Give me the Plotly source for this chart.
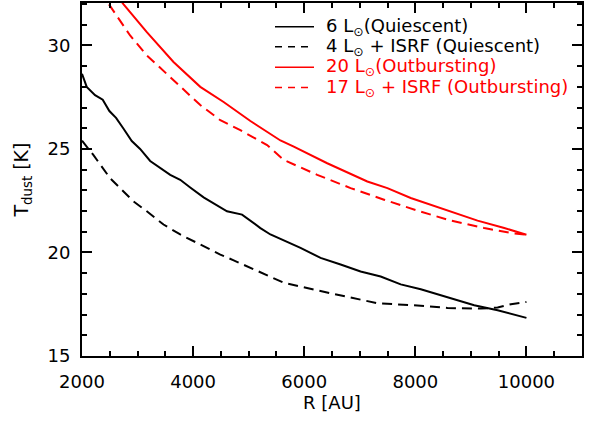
import plotly.graph_objects as go

# Dust temperature profiles T_dust(R)
r_q6 = [2000, 2085, 2235, 2373, 2493, 2613, 2745, 2896, 3046, 3227, 3588, 3768, 3948,
        4189, 4610, 4881, 5211, 5392, 5933, 6294, 6655, 7015, 7376, 7737, 8098, 8579,
        9060, 9481, 10000]
t_q6 = [28.63, 28.0, 27.6, 27.38, 26.83, 26.5, 25.99, 25.38, 25.0, 24.42, 23.75, 23.51,
        23.14, 22.66, 21.99, 21.83, 21.18, 20.87, 20.22, 19.74, 19.42, 19.08, 18.84,
        18.46, 18.22, 17.82, 17.45, 17.21, 16.84]

r_q4 = [2000, 2204, 2505, 2716, 2925, 3167, 3467, 3768, 4069, 4490, 4730, 5151, 5632,
        6234, 6775, 7316, 7977, 8579, 9180, 9481, 9721, 10000]
t_q4 = [25.4, 24.71, 23.59, 23.03, 22.47, 21.99, 21.35, 20.87, 20.46, 19.9, 19.62, 19.1,
        18.54, 18.17, 17.85, 17.55, 17.45, 17.32, 17.29, 17.34, 17.5, 17.61]

r_o20 = [2000, 2745, 3167, 3647, 4129, 4549, 5031, 5572, 5812, 6414, 7136, 7497, 7917,
         8518, 9120, 9601, 10000]
t_o20 = [34.6, 32.0, 30.64, 29.2, 28.0, 27.27, 26.35, 25.41, 25.11, 24.31, 23.43, 23.11,
         22.63, 22.07, 21.54, 21.18, 20.86]

r_o17 = [2000, 2475, 2866, 3167, 3528, 3768, 4129, 4490, 4850, 5332, 5632, 6234, 6835,
         7436, 8038, 8639, 9240, 9721, 10000]
t_o17 = [33.9, 32.0, 30.48, 29.52, 28.63, 28.0, 27.12, 26.39, 25.91, 25.19, 24.47, 23.75,
         23.11, 22.55, 22.02, 21.54, 21.18, 20.94, 20.86]

labels = ["6 L<sub>⊙</sub>(Quiescent)",
          "4 L<sub>⊙</sub> + ISRF (Quiescent)",
          "20 L<sub>⊙</sub>(Outbursting)",
          "17 L<sub>⊙</sub> + ISRF (Outbursting)"]
colors = ["black", "black", "red", "red"]
dashes = ["solid", "10px,6px", "solid", "10px,6px"]
key_dashes = ["solid", "7px,6px", "solid", "7px,6px"]

series = [(r_q6, t_q6), (r_q4, t_q4), (r_o20, t_o20), (r_o17, t_o17)]

X_RANGE = [2000, 11000]
Y_RANGE = [15, 32.05]

FONT = "DejaVu Sans"
W, H = 597, 421
ML, MR, MT, MB = 82, 15, 1, 65
PW, PH = W - ML - MR, H - MT - MB

fig = go.Figure()
for (r, t), col, d, lab in zip(series, colors, dashes, labels):
    fig.add_trace(go.Scatter(x=r, y=t, mode="lines", name=lab, showlegend=False,
                             line=dict(color=col, width=2, dash=d)))

# empty trace that activates the tick-only overlay axes
fig.add_trace(go.Scatter(x=[None], y=[None], xaxis="x2", yaxis="y2", mode="lines",
                         showlegend=False, hoverinfo="skip"))

# hand-placed key in the upper right corner (pixel rows converted to paper coords)
key_rows = [25, 45, 65.5, 86]
for row, lab, col, kd in zip(key_rows, labels, colors, key_dashes):
    yp = 1 - (row - MT) / PH
    fig.add_shape(type="line", xref="paper", yref="paper",
                  x0=(275 - ML) / PW, x1=(314 - ML) / PW, y0=yp, y1=yp,
                  line=dict(color=col, width=1.5, dash=kd))
    fig.add_annotation(xref="paper", yref="paper", x=(324 - ML) / PW, y=yp,
                       xanchor="left", yanchor="middle", showarrow=False,
                       text=lab, font=dict(family=FONT, size=18, color=col))

fig.update_layout(
    width=W, height=H,
    margin=dict(l=ML, r=MR, t=MT, b=MB),
    paper_bgcolor="white", plot_bgcolor="white",
    font=dict(family=FONT, color="black"),
    showlegend=False,
    # main axes: frame, tick labels and titles
    xaxis=dict(range=X_RANGE, dtick=2000, tickformat="d", ticks="",
               showline=True, linecolor="black", linewidth=2, mirror=True,
               showgrid=False, zeroline=False, ticklabelstandoff=8,
               tickfont=dict(family=FONT, size=18, color="black"),
               title=dict(text="R [AU]", font=dict(family=FONT, size=18, color="black"), standoff=6)),
    yaxis=dict(range=Y_RANGE, dtick=5, ticks="",
               showline=True, linecolor="black", linewidth=2, mirror=True,
               showgrid=False, zeroline=False, ticklabelstandoff=6,
               tickfont=dict(family=FONT, size=18, color="black"),
               title=dict(text="T<sub>dust</sub> [K]", font=dict(family=FONT, size=19, color="black"), standoff=14)),
    # overlay axes: inward major and minor ticks on all four sides
    xaxis2=dict(range=X_RANGE, dtick=2000, overlaying="x", anchor="y2", side="bottom",
                showline=True, linecolor="black", linewidth=2, mirror="allticks",
                ticks="inside", ticklen=10, tickwidth=2, tickcolor="black",
                showticklabels=False,
                minor=dict(dtick=500, ticks="inside", ticklen=5, tickcolor="black", tickwidth=1.5)),
    yaxis2=dict(range=Y_RANGE, dtick=5, overlaying="y", anchor="x2", side="left",
                showline=True, linecolor="black", linewidth=2, mirror="allticks",
                ticks="inside", ticklen=10, tickwidth=2, tickcolor="black",
                showticklabels=False,
                minor=dict(dtick=1, ticks="inside", ticklen=5, tickcolor="black", tickwidth=1.5)),
)

fig.write_html("out.html")
